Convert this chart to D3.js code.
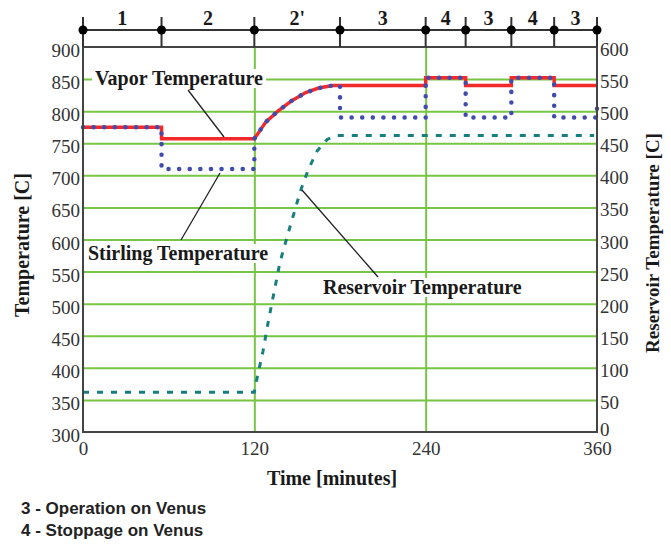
<!DOCTYPE html>
<html>
<head>
<meta charset="utf-8">
<script src="https://cdn.jsdelivr.net/npm/d3@7"></script>
<style>
  html, body { margin: 0; padding: 0; background: #fff; }
  svg { display: block; }
</style>
</head>
<body>
<svg id="chart" width="671" height="546"></svg>
<script>
// ---------- data ----------
const phaseTimes  = [0, 55, 120, 180, 240, 268, 300, 330, 360];
const phaseLabels = ["1", "2", "2'", "3", "4", "3", "4", "3"];

const vaporTime = [0, 55, 55, 120, 128, 137, 146, 156, 165, 175, 180, 240, 240, 268, 268, 300, 300, 330, 330, 360];
const vaporTemp = [775, 775, 757, 757, 783, 801, 816, 829, 836, 840, 840, 840, 852, 852, 840, 840, 852, 852, 840, 840];

const stirlingTime = [0, 55, 55, 120, 120, 128, 137, 146, 156, 165, 175, 180, 180, 240, 240, 268, 268, 300, 300, 330, 330, 360, 360];
const stirlingTemp = [775, 775, 710, 710, 757, 783, 801, 816, 829, 836, 840, 840, 790, 790, 852, 852, 790, 790, 852, 852, 790, 790, 815];

const reservoirTime = [0, 120, 122, 126, 130, 134, 138, 145, 150, 153, 158, 164, 171, 178, 358];
const reservoirTemp = [62, 62, 85, 125, 175, 220, 265, 320, 358, 380, 410, 438, 456, 462, 462];

const leftTicks  = [300, 350, 400, 450, 500, 550, 600, 650, 700, 750, 800, 850, 900];
const rightTicks = [0, 50, 100, 150, 200, 250, 300, 350, 400, 450, 500, 550, 600];
const timeTicks  = [0, 120, 240, 360];
const gridTemps  = [350, 400, 450, 500, 550, 600, 650, 700, 750, 800, 850];
const gridTimes  = [120, 240];

const footnotes = ["3 - Operation on Venus", "4 - Stoppage on Venus"];

// ---------- layout ----------
const L = 83, R = 597, T = 47, B = 432;
const svg = d3.select("#chart");
const serif = "'Liberation Serif', 'Times New Roman', serif";

const x  = d3.scaleLinear().domain([0, 360]).range([L, R]);
const yL = d3.scaleLinear().domain([300, 900]).range([B, T]);
const yR = d3.scaleLinear().domain([0, 600]).range([B, T]);

const gridColor = "#78c445";

// gridlines
const gH = svg.append("g").attr("transform", `translate(${L},0)`)
  .call(d3.axisLeft(yL).tickValues(gridTemps).tickSize(-(R - L)).tickFormat(""));
gH.select(".domain").remove();
gH.selectAll("line").attr("stroke", gridColor).attr("stroke-width", 2);

const gV = svg.append("g").attr("transform", `translate(0,${B})`)
  .call(d3.axisBottom(x).tickValues(gridTimes).tickSize(-(B - T)).tickFormat(""));
gV.select(".domain").remove();
gV.selectAll("line").attr("stroke", gridColor).attr("stroke-width", 2);

// series
const lineL = d3.line().x(d => x(d[0])).y(d => yL(d[1]));
const lineR = d3.line().x(d => x(d[0])).y(d => yR(d[1]));

svg.append("path")
  .datum(reservoirTime.map((t, i) => [t, reservoirTemp[i]]))
  .attr("d", lineR).attr("fill", "none")
  .attr("stroke", "#17807f").attr("stroke-width", 3)
  .attr("stroke-dasharray", "6 8");

svg.append("path")
  .datum(vaporTime.map((t, i) => [t, vaporTemp[i]]))
  .attr("d", lineL).attr("fill", "none")
  .attr("stroke", "#f42a2a").attr("stroke-width", 3.5);

svg.append("path")
  .datum(stirlingTime.map((t, i) => [t, stirlingTemp[i]]))
  .attr("d", lineL).attr("fill", "none")
  .attr("stroke", "#3f4cae").attr("stroke-width", 4.5)
  .attr("stroke-linecap", "round")
  .attr("stroke-dasharray", "0.1 10.5");

// annotations
function annot(text, tx, ty, size, lx1, ly1, lx2, ly2) {
  svg.append("line")
    .attr("x1", lx1).attr("y1", ly1).attr("x2", lx2).attr("y2", ly2)
    .attr("stroke", "#222").attr("stroke-width", 1.3);
  const g = svg.append("g");
  const t = g.append("text").attr("x", tx).attr("y", ty)
    .attr("font-family", serif).attr("font-weight", "bold")
    .attr("font-size", size).attr("fill", "#1a1a1a").text(text);
  const bb = t.node().getBBox();
  g.insert("rect", "text").attr("x", bb.x - 3).attr("y", bb.y + 2)
    .attr("width", bb.width + 6).attr("height", bb.height - 4).attr("fill", "#fff");
}
annot("Vapor Temperature", 95, 85, 20, 188, 90, 224, 137);
annot("Stirling Temperature", 88, 260, 20, 181, 240, 220, 173);
annot("Reservoir Temperature", 323, 294, 20, 302, 190, 378, 277);

// plot border
svg.append("rect").attr("x", L).attr("y", T).attr("width", R - L).attr("height", B - T)
  .attr("fill", "none").attr("stroke", "#444").attr("stroke-width", 2);

// axes labels
const axL = svg.append("g").attr("transform", `translate(${L},0)`)
  .call(d3.axisLeft(yL).tickValues(leftTicks).tickSize(0).tickPadding(3).tickFormat(d3.format("d")));
const axR = svg.append("g").attr("transform", `translate(${R},0)`)
  .call(d3.axisRight(yR).tickValues(rightTicks).tickSize(0).tickPadding(3).tickFormat(d3.format("d")));
const axB = svg.append("g").attr("transform", `translate(0,${B})`)
  .call(d3.axisBottom(x).tickValues(timeTicks).tickSize(0).tickPadding(10).tickFormat(d3.format("d")));
[axL, axR, axB].forEach(a => {
  a.select(".domain").remove();
  a.selectAll("text").attr("font-family", serif).attr("font-size", 19).attr("fill", "#333");
});
axL.selectAll("text").attr("dy", "0.5em");
axR.selectAll("text").attr("dy", d => d === 0 ? "0.2em" : "0.45em");

svg.append("text").attr("x", (L + R) / 2 - 8).attr("y", 485).attr("text-anchor", "middle")
  .attr("font-family", serif).attr("font-weight", "bold").attr("font-size", 20).attr("fill", "#1a1a1a")
  .text("Time [minutes]");
svg.append("text").attr("transform", "translate(29,245) rotate(-90)")
  .attr("text-anchor", "middle")
  .attr("font-family", serif).attr("font-weight", "bold").attr("font-size", 20).attr("fill", "#1a1a1a")
  .text("Temperature [C]");
svg.append("text").attr("transform", "translate(659,243) rotate(-90)")
  .attr("text-anchor", "middle")
  .attr("font-family", serif).attr("font-weight", "bold").attr("font-size", 19).attr("fill", "#1a1a1a")
  .text("Reservoir Temperature [C]");

// phase bar
const PY = 30;
svg.append("line").attr("x1", x(0)).attr("x2", x(360)).attr("y1", PY).attr("y2", PY)
  .attr("stroke", "#333").attr("stroke-width", 2);
svg.selectAll(".ptick").data(phaseTimes).enter().append("line")
  .attr("x1", d => x(d)).attr("x2", d => x(d)).attr("y1", 17).attr("y2", T)
  .attr("stroke", "#333").attr("stroke-width", 2);
svg.selectAll(".pdot").data(phaseTimes).enter().append("circle")
  .attr("cx", d => x(d)).attr("cy", PY).attr("r", 4.5).attr("fill", "#000");
svg.selectAll(".plab").data(phaseLabels).enter().append("text")
  .attr("x", (d, i) => x((phaseTimes[i] + phaseTimes[i + 1]) / 2))
  .attr("y", 25).attr("text-anchor", "middle")
  .attr("font-family", serif).attr("font-weight", "bold").attr("font-size", 20).attr("fill", "#1a1a1a")
  .text(d => d);

// footnotes
svg.selectAll(".fn").data(footnotes).enter().append("text")
  .attr("x", 21).attr("y", (d, i) => 514 + i * 22)
  .attr("font-family", "'Liberation Sans', Arial, sans-serif").attr("font-weight", "bold")
  .attr("font-size", 17).attr("fill", "#222")
  .text(d => d);
</script>
</body>
</html>
